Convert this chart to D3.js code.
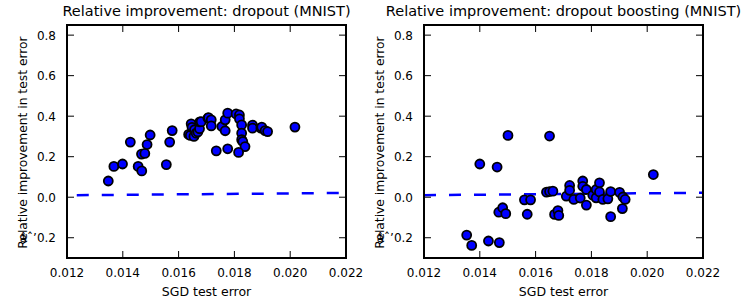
<!DOCTYPE html>
<script src="https://d3js.org/d3.v7.min.js"></script>
<style>
  body { margin: 0; background: #fff; }
  text { font-family: "DejaVu Sans", sans-serif; fill: #000; }
</style>
<svg></svg>

<script>
    // SGD test error vs relative improvement
    const dropoutX = [0.01348, 0.01368, 0.01399, 0.01427, 0.01455, 0.01468, 0.01467, 0.01479, 0.01487, 0.01498,
        0.01556, 0.01568, 0.01577, 0.01636, 0.01642, 0.01645, 0.01648, 0.01655, 0.01657, 0.01663,
        0.01669, 0.01675, 0.01676, 0.01681, 0.01705, 0.01707, 0.01717, 0.01717, 0.01735, 0.01755,
        0.01767, 0.01767, 0.01776, 0.01776, 0.01806, 0.01818, 0.01818, 0.01826, 0.01826, 0.01826,
        0.0183, 0.01838, 0.01815, 0.01865, 0.01865, 0.01895, 0.01898, 0.0191, 0.01919, 0.02017];
    const dropoutY = [0.08, 0.152, 0.164, 0.272, 0.152, 0.13, 0.213, 0.216, 0.26, 0.307,
        0.161, 0.272, 0.329, 0.31, 0.305, 0.362, 0.345, 0.30, 0.333, 0.316,
        0.322, 0.338, 0.372, 0.373, 0.39, 0.393, 0.382, 0.352, 0.229, 0.349,
        0.382, 0.328, 0.415, 0.239, 0.411, 0.406, 0.387, 0.357, 0.316, 0.284,
        0.275, 0.25, 0.221, 0.356, 0.341, 0.341, 0.346, 0.329, 0.324, 0.346];

    const boostX = [0.01353, 0.01371, 0.0140, 0.01431, 0.01462, 0.0147, 0.01468, 0.01482, 0.01493, 0.01501,
        0.0156, 0.0157, 0.01582, 0.01639, 0.0165, 0.0165, 0.01662, 0.01668, 0.0168, 0.01683,
        0.0171, 0.01722, 0.01722, 0.01737, 0.0176, 0.01769, 0.01769, 0.01782, 0.01782, 0.01805,
        0.01817, 0.01817, 0.01829, 0.01829, 0.01841, 0.01859, 0.01869, 0.01869, 0.01901, 0.01913,
        0.01921, 0.01911, 0.02022];
    const boostY = [-0.187, -0.238, 0.164, -0.216, 0.149, -0.224, -0.074, -0.052, -0.081, 0.305,
        -0.013, -0.084, -0.013, 0.025, 0.302, 0.028, 0.03, -0.085, -0.066, -0.09,
        0.005, 0.058, 0.034, -0.011, -0.004, 0.08, 0.054, 0.038, -0.039, 0.01,
        -0.003, 0.038, 0.071, 0.026, -0.011, -0.008, 0.028, -0.096, 0.024, 0.001,
        -0.011, -0.056, 0.112];

    // dashed reference lines (end points)
    const dropoutLineX = [0.01235, 0.022];
    const dropoutLineY = [0.010, 0.021];
    const boostLineX = [0.012, 0.022];
    const boostLineY = [0.010, 0.022];

    const xTicks = [0.012, 0.014, 0.016, 0.018, 0.020, 0.022];
    const yTicks = [-0.2, 0.0, 0.2, 0.4, 0.6, 0.8];
    const titles = ["Relative improvement: dropout (MNIST)", "Relative improvement: dropout boosting (MNIST)"];

    const W = 743, H = 301;
    const svg = d3.select("svg").attr("width", W).attr("height", H);

    const panels = [
        {left: 67, xs: dropoutX, ys: dropoutY, lx: dropoutLineX, ly: dropoutLineY, title: titles[0]},
        {left: 424, xs: boostX, ys: boostY, lx: boostLineX, ly: boostLineY, title: titles[1]}
    ];
    const pw = 279, plotTop = 25, plotBottom = 258;

    panels.forEach(p => {
        const x = d3.scaleLinear().domain([0.012, 0.022]).range([p.left, p.left + pw]);
        const y = d3.scaleLinear().domain([-0.3, 0.85]).range([plotBottom, plotTop]);
        const g = svg.append("g");

        // dashed line
        g.append("path")
            .datum(d3.zip(p.lx, p.ly))
            .attr("fill", "none")
            .attr("stroke", "#0000ff")
            .attr("stroke-width", 2.5)
            .attr("stroke-dasharray", "12,13")
            .attr("d", d3.line().x(d => x(d[0])).y(d => y(d[1])));

        // points
        g.selectAll("circle")
            .data(d3.zip(p.xs, p.ys))
            .join("circle")
            .attr("cx", d => x(d[0]))
            .attr("cy", d => y(d[1]))
            .attr("r", 4.5)
            .attr("fill", "#0000ff")
            .attr("stroke", "#000")
            .attr("stroke-width", 1.8);

        // inward ticks on all four sides
        const tl = 7;
        g.selectAll(".xt")
            .data(xTicks)
            .join("path")
            .attr("stroke", "#000")
            .attr("stroke-width", 1)
            .attr("d", d => `M${x(d)},${plotBottom}v${-tl}M${x(d)},${plotTop}v${tl}`);
        g.selectAll(".yt")
            .data(yTicks)
            .join("path")
            .attr("stroke", "#000")
            .attr("stroke-width", 1)
            .attr("d", d => `M${p.left},${y(d)}h${tl}M${p.left + pw},${y(d)}h${-tl}`);

        // frame
        g.append("rect")
            .attr("x", p.left).attr("y", plotTop)
            .attr("width", pw).attr("height", plotBottom - plotTop)
            .attr("fill", "none")
            .attr("stroke", "#000")
            .attr("stroke-width", 2);

        // tick labels
        g.selectAll(".xl")
            .data(xTicks)
            .join("text")
            .attr("x", d => x(d))
            .attr("y", 277)
            .attr("text-anchor", "middle")
            .attr("font-size", 12)
            .text(d => d3.format(".3f")(d));
        g.selectAll(".yl")
            .data(yTicks)
            .join("text")
            .attr("x", p.left - 11)
            .attr("y", d => y(d) + 4.5)
            .attr("text-anchor", "end")
            .attr("font-size", 12)
            .text(d => d3.format(".1f")(d).replace("-", "\u2212"));

        // axis labels and title
        g.append("text")
            .attr("x", p.left + pw / 2)
            .attr("y", 296)
            .attr("text-anchor", "middle")
            .attr("font-size", 12.5)
            .text("SGD test error");
        g.append("text")
            .attr("transform", `translate(${p.left - 40},${(plotTop + plotBottom) / 2 + 1}) rotate(-90)`)
            .attr("text-anchor", "middle")
            .attr("font-size", 12.3)
            .text("Relative improvement in test error");
        g.append("text")
            .attr("x", p.left + pw / 2)
            .attr("y", 16)
            .attr("text-anchor", "middle")
            .attr("font-size", 14.5)
            .text(p.title);
    });
</script>
